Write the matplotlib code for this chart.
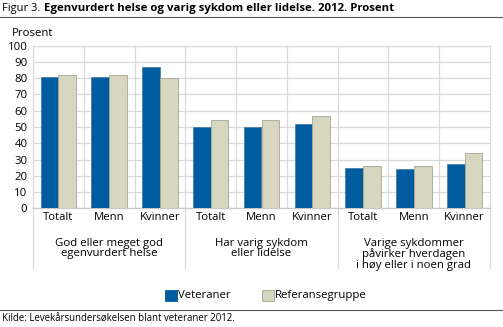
import matplotlib.pyplot as plt
import numpy as np
from matplotlib.lines import Line2D
from matplotlib.patches import Rectangle

categories = ['Totalt', 'Menn', 'Kvinner'] * 3
groups = ['God eller meget god\negenvurdert helse',
          'Har varig sykdom\neller lidelse',
          'Varige sykdommer\npåvirker hverdagen\ni høy eller i noen grad']
series = ['Veteraner', 'Referansegruppe']
veteraner = [81, 81, 87, 50, 50, 52, 25, 24, 27]
referanse = [82, 82, 80, 54, 54, 57, 26, 26, 34]
yticks = list(range(0, 101, 10))

blue = '#005c9e'
beige = '#d7d7c0'
grid = '#d9d9d9'

plt.rcParams['font.family'] = ['Open Sans', 'DejaVu Sans']
plt.rcParams['font.size'] = 8.2

W, H = 503, 327
fig = plt.figure(figsize=(W / 100, H / 100), dpi=100)

# plot area in pixels
x0, x1, ytop, ybot = 33, 490, 45.7, 208.3
ax = fig.add_axes([x0 / W, 1 - ybot / H, (x1 - x0) / W, (ybot - ytop) / H])

x = np.arange(len(categories))
bw = 0.35
ax.bar(x - bw / 2, veteraner, bw, color=blue, edgecolor='#4a7fa8', linewidth=0.6, zorder=3)
ax.bar(x + bw / 2, referanse, bw, color=beige, edgecolor='#a5a595', linewidth=0.6, zorder=3)

ax.set_xlim(-0.5, len(categories) - 0.5)
ax.set_ylim(0, 100)
ax.set_yticks(yticks)
ax.set_xticks(x)
ax.set_xticklabels(categories)
ax.tick_params(length=0, pad=2.5)
ax.tick_params(axis='y', pad=4)
for y in yticks:
    ax.axhline(y, color=grid, linewidth=0.9, zorder=1)
for b in np.arange(0.5, len(categories) - 0.5, 1):
    ax.axvline(b, color=grid, linewidth=0.9, zorder=1)
for s in ax.spines.values():
    s.set_color(grid)
    s.set_linewidth(0.9)
ax.spines['bottom'].set_color('#c8c8c8')

# group separators extending below the axis
trans = ax.get_xaxis_transform()
for b in [-0.5, 2.5, 5.5, 8.5]:
    ax.add_line(Line2D([b, b], [0, -0.37], transform=trans, color=grid,
                       linewidth=0.9, clip_on=False))
for i, g in enumerate(groups):
    ax.text(3 * i + 1, -0.18, g, transform=trans, ha='center', va='top',
            linespacing=0.95)

fig.text(12 / W, 1 - 33 / H, 'Prosent', va='center')

# title
fig.text(2 / W, 1 - 8 / H, 'Figur 3.', fontsize=8, va='center')
fig.text(44 / W, 1 - 8 / H, 'Egenvurdert helse og varig sykdom eller lidelse. 2012. Prosent',
         fontsize=8.2, fontweight='bold', va='center')
fig.add_artist(Line2D([0, 1], [1 - 17 / H, 1 - 17 / H], color='#555555', linewidth=0.8))
fig.add_artist(Line2D([0, 1], [1 - 310 / H, 1 - 310 / H], color='#555555', linewidth=0.8))
fig.text(2 / W, 1 - 319 / H, 'Kilde: Levekårsundersøkelsen blant veteraner 2012.',
         fontsize=6.9, va='center')

# legend drawn by hand
for lx, name, fc, ec in [(165, series[0], blue, blue), (262, series[1], beige, '#a5a595')]:
    fig.add_artist(Rectangle((lx / W, 1 - 301 / H), 12 / W, 11 / H, transform=fig.transFigure,
                             facecolor=fc, edgecolor=ec, linewidth=0.6))
    fig.text((lx + 13) / W, 1 - 295.5 / H, name, va='center')

fig.savefig('out.png', dpi=100)
